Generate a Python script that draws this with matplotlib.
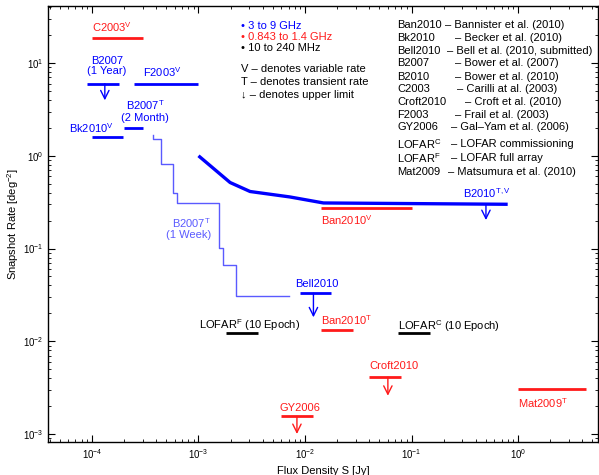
import numpy as np
import matplotlib
matplotlib.use('Agg')
import matplotlib.pyplot as plt

plt.rcParams['font.family'] = ['Liberation Sans', 'DejaVu Sans']
plt.rcParams['mathtext.fontset'] = 'custom'
plt.rcParams['mathtext.rm'] = 'Liberation Sans'
plt.rcParams['mathtext.it'] = 'Liberation Sans:italic'
plt.rcParams['mathtext.bf'] = 'Liberation Sans:bold'
plt.rcParams['mathtext.default'] = 'regular'

COL = {'blue': '#0000ff', 'red': '#ff1a1a', 'black': '#000000', 'light': '#5a5aff'}

# ---------------- data ----------------
# horizontal survey segments: flux range [Jy] and snapshot rate [deg^-2]
seg_names = ['C2003', 'B2007_1yr', 'F2003', 'B2007_2mo', 'Bk2010', 'Ban2010V',
             'Bell2010', 'Ban2010T', 'LOFAR_C', 'LOFAR_F', 'Croft2010', 'GY2006', 'Mat2009']
seg_smin = [1.0e-4, 9.0e-5, 2.5e-4, 2.0e-4, 1.0e-4, 0.014, 8.9e-3, 0.014, 0.075, 1.8e-3, 0.040, 6.0e-3, 1.0]
seg_smax = [3.0e-4, 1.8e-4, 1.0e-3, 3.0e-4, 1.95e-4, 0.10, 0.0175, 0.028, 0.15, 3.6e-3, 0.080, 0.012, 4.35]
seg_rate = [18.4, 6.0, 5.9, 2.0, 1.6, 0.275, 0.033, 0.0133, 0.0122, 0.0122, 4.1e-3, 1.55e-3, 3.05e-3]
seg_band = ['red', 'blue', 'blue', 'blue', 'blue', 'red', 'blue', 'red', 'black', 'black', 'red', 'red', 'red']

# B2010 (T,V) curve
b2010_s = [1.0e-3, 1.98e-3, 3.05e-3, 7.2e-3, 0.0149, 0.80]
b2010_r = [1.0, 0.515, 0.412, 0.36, 0.31, 0.30]

# B2007 (1 week) step curve
b2007w_s = [3.71e-4, 4.48e-4, 5.73e-4, 6.33e-4, 1.57e-3, 1.71e-3, 2.25e-3, 7.13e-3]
b2007w_r = [1.68, 1.52, 0.814, 0.40, 0.306, 0.101, 0.0657, 0.0304]

# upper limits (arrow positions)
ul_s = [1.32e-4, 0.012, 0.5, 0.06, 8.4e-3]
ul_r = [6.0, 0.033, 0.30, 4.1e-3, 1.55e-3]
ul_band = ['blue', 'blue', 'blue', 'red', 'red']

# labels on the plot
lab_text = ['C2003$^{V}$', 'B2007\n(1 Year)', 'F2003$^{V}$', 'B2007$^{T}$\n(2 Month)',
            'Bk2010$^{V}$', 'B2007$^{T}$\n(1 Week)', 'B2010$^{T,V}$', 'Ban2010$^{V}$',
            'Bell2010', 'Ban2010$^{T}$', 'LOFAR$^{C}$ (10 Epoch)', 'LOFAR$^{F}$ (10 Epoch)',
            'Croft2010', 'GY2006', 'Mat2009$^{T}$']
lab_band = ['red', 'blue', 'blue', 'blue', 'blue', 'light', 'blue', 'red',
            'blue', 'red', 'black', 'black', 'red', 'red', 'red']

legend_bands = ['\u2022 3 to 9 GHz', '\u2022 0.843 to 1.4 GHz', '\u2022 10 to 240 MHz']
legend_band_col = ['blue', 'red', 'black']
legend_marks = ['V \u2013 denotes variable rate', 'T \u2013 denotes transient rate',
                '\u2193 \u2013 denotes upper limit']
ref_keys = ['Ban2010', 'Bk2010', 'Bell2010', 'B2007', 'B2010', 'C2003', 'Croft2010',
            'F2003', 'GY2006', 'LOFAR$^{C}$', 'LOFAR$^{F}$', 'Mat2009']
ref_desc = ['\u2013 Bannister et al. (2010)', '\u2013 Becker et al. (2010)',
            '\u2013 Bell et al. (2010, submitted)', '\u2013 Bower et al. (2007)',
            '\u2013 Bower et al. (2010)', '\u2013 Carilli at al. (2003)',
            '\u2013 Croft et al. (2010)', '\u2013 Frail et al. (2003)',
            '\u2013 Gal\u2013Yam et al. (2006)', '\u2013 LOFAR commissioning',
            '\u2013 LOFAR full array', '\u2013 Matsumura et al. (2010)']

# ---------------- layout ----------------
W, H = 599, 475
fig = plt.figure(figsize=(W / 100, H / 100), dpi=100)
L, R, T, B = 48, 598, 6, 442
ax = fig.add_axes([L / W, 1 - B / H, (R - L) / W, (B - T) / H])
ax.set_xscale('log')
ax.set_yscale('log')
ax.set_xlim(10 ** -4.413, 10 ** 0.751)
ax.set_ylim(10 ** -3.086, 10 ** 1.615)

# label positions (data coords) and alignments
lab_pos = [(1.0e-4, 24.4), (1.375e-4, 9.3), (2.99e-4, 7.9), (3.15e-4, 3.06),
           (6.08e-5, 1.99), (1.31e-3, 0.166), (0.303, 0.396), (0.014, 0.201),
           (8.05e-3, 0.0414), (0.014, 0.0168), (0.0751, 0.0147), (1.01e-3, 0.0151),
           (0.0402, 5.44e-3), (5.74e-3, 1.9e-3), (1.0, 2.16e-3)]
lab_ha = ['left', 'center', 'left', 'center', 'left', 'right', 'left', 'left',
          'left', 'left', 'left', 'left', 'left', 'left', 'left']
ul_len = [0.18, 0.26, 0.17, 0.20, 0.19]   # arrow length in decades

seg_lw = 2.0
for s0, s1, r, b in zip(seg_smin, seg_smax, seg_rate, seg_band):
    ax.plot([s0, s1], [r, r], color=COL[b], lw=seg_lw, solid_capstyle='butt')

ax.plot(b2010_s, b2010_r, color=COL['blue'], lw=2.4, solid_capstyle='butt')
ax.plot(b2007w_s, b2007w_r, color=COL['light'], lw=1.0, drawstyle='steps-pre')

for s, r, b, d in zip(ul_s, ul_r, ul_band, ul_len):
    ax.annotate('', xy=(s, r * 10 ** -d), xytext=(s, r),
                arrowprops=dict(arrowstyle='->,head_length=0.6,head_width=0.3',
                                color=COL[b], lw=1.0, shrinkA=0, shrinkB=0,
                                mutation_scale=10))

for t, (x, y), ha, b in zip(lab_text, lab_pos, lab_ha, lab_band):
    ax.text(x, y, t, color=COL[b], fontsize=8, ha=ha, va='center',
            multialignment=ha, linespacing=1.05)

# legends (figure pixel coords)
def fp(x, y):
    return x / W, 1 - y / H

for i, (t, c) in enumerate(zip(legend_bands, legend_band_col)):
    fig.text(*fp(240.7, 25.7 + 11.3 * i), t, color=COL[c], fontsize=8, va='center')
for i, t in enumerate(legend_marks):
    fig.text(*fp(240.7, 69 + 13 * i), t, color='black', fontsize=8, va='center')

ref_y = [25, 38.3, 50.7, 63.3, 76.7, 89.3, 101.7, 115, 127.3, 144, 158, 171.7]
dash_x = [445, 455, 447.3, 455, 455, 456.7, 465, 455, 450.7, 450.7, 450.7, 448.3]
for k, d, y, dx in zip(ref_keys, ref_desc, ref_y, dash_x):
    fig.text(*fp(397.3, y), k, color='black', fontsize=8, va='center')
    fig.text(*fp(dx, y), d, color='black', fontsize=8, va='center')

ax.tick_params(which='both', direction='in', top=True, right=True, labelsize=7)
ax.tick_params(which='major', length=5, width=0.8)
ax.tick_params(which='minor', length=2.5, width=0.6)
for sp in ax.spines.values():
    sp.set_linewidth(1.0)

ax.set_xlabel('Flux Density S [Jy]', fontsize=8, labelpad=4)
ax.set_ylabel('Snapshot Rate [deg$^{-2}$]', fontsize=8, labelpad=1)

fig.savefig('out.png', dpi=100)
